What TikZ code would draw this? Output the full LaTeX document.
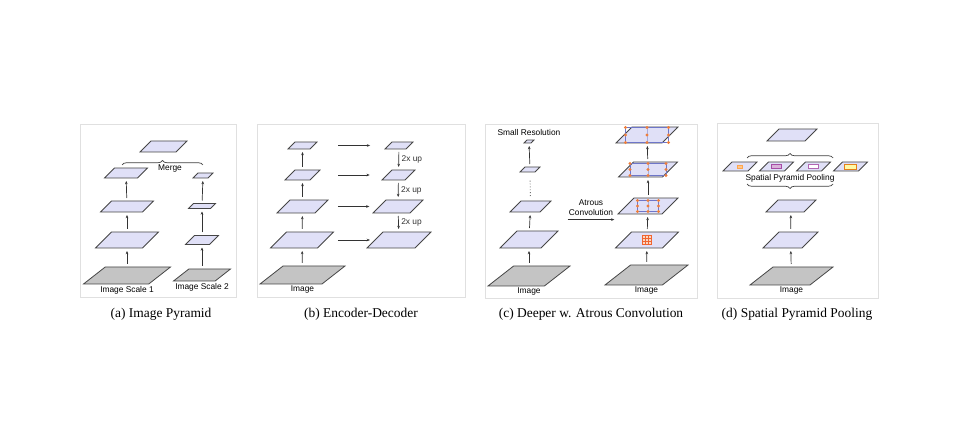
\documentclass[tikz,border=0pt]{standalone}
\usepackage{fontspec}
\setmainfont{Liberation Serif}
\setsansfont{Liberation Sans}
\usetikzlibrary{arrows.meta,positioning,shapes.geometric,decorations.pathreplacing,calc}

\definecolor{lav}{RGB}{224,224,247}
\definecolor{imgray}{RGB}{196,196,196}
\definecolor{edge}{RGB}{70,70,70}
\definecolor{dotor}{RGB}{238,126,60}
\definecolor{gridblue}{RGB}{110,118,200}

% dilated sampling grid drawn on a feature map
\newcommand{\atrousgrid}[3]{%
  \draw[gridblue, line width=0.4bp] ($(#1)+(-#2,-#3)$) rectangle ($(#1)+(#2,#3)$);
  \draw[gridblue!60, line width=0.3bp] ($(#1)+(0,-#3)$) -- ($(#1)+(0,#3)$);
  \foreach \u in {-1,0,1}
    \foreach \v in {-1,0,1}
      \fill[dotor] ($(#1)+(\u*#2,\v*#3)$) circle (1.6bp);
}

\begin{document}
\begin{tikzpicture}[
  x=1bp, y=-1bp,
  fmap/.style={draw=edge, line width=0.8bp, fill=lav, trapezium,
    trapezium left angle=45, trapezium right angle=135,
    trapezium stretches body, inner sep=0pt, outer sep=0pt, text depth=0pt},
  img/.style={fmap, fill=imgray, trapezium left angle=38, trapezium right angle=142},
  fm/.style 2 args={fmap, minimum width=#1, text height=#2},
  im/.style 2 args={img, minimum width=#1, text height=#2},
  lbl/.style={font=\sffamily\fontsize{8.4}{10}\selectfont, inner sep=1bp},
  captxt/.style={font=\fontsize{13.5}{15}\selectfont},
  panel/.style={draw=black!12, line width=0.6bp},
  arr/.style={-{Stealth[length=3.2bp,width=2.6bp]}, line width=0.7bp, black!80,
    shorten <=3bp, shorten >=3bp},
  brc/.style={decorate, decoration={brace, amplitude=4.5bp}, line width=0.7bp, black!75}
]
\fill[white] (0,0) rectangle (974,444);
\useasboundingbox (0,0) rectangle (974,444);

% (a) image pyramid
\draw[panel] (80,124) rectangle (236,297);
\node[im={87bp}{17bp}] (ia1) at (127,275.5) {};
\node[fm={63bp}{16bp}] (ia2) at (127,240) {};
\node[fm={53bp}{11bp}] (ia3) at (127,206.5) {};
\node[fm={43bp}{10bp}] (ia4) at (126,173) {};
\node[im={57bp}{12bp}] (ib1) at (202,275) {};
\node[fm={33bp}{9bp}] (ib2) at (202,240) {};
\node[fm={27bp}{5bp}] (ib3) at (202,206) {};
\node[fm={20bp}{5bp}] (ib4) at (203,175.5) {};
\node[fm={47bp}{11bp}] (merge) at (163.5,146.5) {};
\node[lbl, below=1bp of ia1] {Image Scale 1};
\node[lbl, below=1bp of ib1] {Image Scale 2};
\node[lbl] (mlab) at (170,168.5) {Merge};
\draw[brc] (122,165) -- (203,165);
\foreach \i/\j in {1/2,2/3,3/4} {
  \draw[arr] (ia\i) -- (ia\j);
  \draw[arr] (ib\i) -- (ib\j);
}

% (b) encoder-decoder
\draw[panel] (257,124) rectangle (465,297);
\node[im={85bp}{18bp}] (en1) at (302.5,275) {};
\node[fm={63bp}{16bp}] (en2) at (302,240) {};
\node[fm={51bp}{13bp}] (en3) at (302.5,206.5) {};
\node[fm={35bp}{10bp}] (en4) at (302.5,175) {};
\node[fm={29bp}{7bp}] (en5) at (302.5,145.5) {};
\node[fm={64bp}{16bp}] (de2) at (399,240) {};
\node[fm={50bp}{13bp}] (de3) at (398,206.5) {};
\node[fm={33bp}{10bp}] (de4) at (398.5,175) {};
\node[fm={28bp}{7bp}] (de5) at (399,145.5) {};
\node[lbl, below=1bp of en1] {Image};
\foreach \i/\j in {1/2,2/3,3/4,4/5}
  \draw[arr] (en\i) -- (en\j);
\foreach \i in {2,...,5}
  \draw[arr, shorten <=0pt, shorten >=0pt] ($(en\i)!0.37!(de\i)$) -- ($(en\i)!0.70!(de\i)$);
\foreach \i/\j in {5/4,4/3,3/2}
  \draw[arr] (de\i) -- node[lbl, right=1.5bp] {2x up} (de\j);

% (c) deeper w. atrous convolution
\draw[panel] (485,124) rectangle (697,298);
\node[im={82bp}{20bp}] (dc1) at (529,276) {};
\node[fm={58bp}{17bp}] (dc2) at (529,239.5) {};
\node[fm={41bp}{11bp}] (dc3) at (530.5,206.5) {};
\node[fm={20bp}{5bp}] (dc4) at (530,169.5) {};
\node[fm={10bp}{3bp}] (dc5) at (529,141.5) {};
\node[lbl, above=3bp of dc5] {Small Resolution};
\node[lbl, below=1bp of dc1] {Image};
\draw[arr] (dc1) -- (dc2);
\draw[arr] (dc2) -- (dc3);
\draw[arr] (dc4) -- (dc5);
\draw[dotted, line width=0.9bp, black!55, shorten <=5bp, shorten >=7bp] (dc3) -- (dc4);
\node[im={83bp}{20bp}] (at1) at (646.5,275) {};
\node[fm={63bp}{16bp}] (at2) at (647,240) {};
\node[fm={60bp}{16bp}] (at3) at (648,206) {};
\node[fm={59bp}{15bp}] (at4) at (648,169.5) {};
\node[fm={62bp}{16bp}] (at5) at (647,135) {};
\node[lbl, below=1bp of at1] {Image};
\foreach \i/\j in {1/2,2/3,3/4,4/5}
  \draw[arr] (at\i) -- (at\j);
\node[lbl, align=center] (atr) at (591,208) {Atrous\\Convolution};
\draw[arr, shorten <=0pt, shorten >=0pt] ([yshift=-2.5bp]atr.south west) -- ([yshift=-2.5bp]atr.south east);
\draw[dotor!80!red, fill=dotor!30, line width=0.5bp] ($(at2)+(-4.5,-4.5)$) rectangle ($(at2)+(4.5,4.5)$);
\foreach \d in {-1.5,1.5} {
  \draw[dotor!80!red, line width=0.4bp] ($(at2)+(\d,-4.5)$) -- ($(at2)+(\d,4.5)$);
  \draw[dotor!80!red, line width=0.4bp] ($(at2)+(-4.5,\d)$) -- ($(at2)+(4.5,\d)$);
}
\atrousgrid{at3}{10.5}{5.5}
\atrousgrid{at4}{18}{6}
\atrousgrid{at5}{21.5}{7.5}

% (d) spatial pyramid pooling
\draw[panel] (717,123) rectangle (878,298);
\node[im={83bp}{18bp}] (sp1) at (791.5,276) {};
\node[fm={55bp}{16bp}] (sp2) at (790.5,240) {};
\node[fm={50bp}{12bp}] (sp3) at (791,206) {};
\node[fm={34bp}{9bp}] (q1) at (740,166.5) {};
\node[fm={34bp}{9bp}] (q2) at (776.5,166.5) {};
\node[fm={34bp}{9bp}] (q3) at (813.5,166.5) {};
\node[fm={34bp}{9bp}] (q4) at (850.5,166.5) {};
\node[fm={50bp}{12bp}] (spt) at (792,135) {};
\node[lbl, below=1bp of sp1] {Image};
\node[lbl] (spp) at (790,178) {Spatial Pyramid Pooling};
\draw[arr] (sp1) -- (sp2);
\draw[arr] (sp2) -- (sp3);
\draw[brc] (833,184) -- (747,184);
\draw[brc] (747,158) -- (833,158);
\draw[draw=orange!70, fill=orange!45, line width=0.4bp] ($(q1)+(-2.5,-1.5)$) rectangle ($(q1)+(2.5,1.5)$);
\draw[draw=violet!70, fill=violet!30, line width=0.5bp] ($(q2)+(-5,-2)$) rectangle ($(q2)+(5,2)$);
\draw[draw=violet!60, fill=white, line width=0.5bp] ($(q3)+(-5,-2)$) rectangle ($(q3)+(5,2)$);
\draw[draw=orange!60!brown, fill=yellow!35, line width=0.5bp] ($(q4)+(-6,-2.5)$) rectangle ($(q4)+(6,2.5)$);

% captions
\node[captxt] (capa) at (161,314) {(a) Image Pyramid};
\node[captxt] (capb) at (361,314) {(b) Encoder-Decoder};
\node[captxt] (capc) at (591,314) {(c) Deeper w. Atrous Convolution};
\node[captxt] (capd) at (797,314) {(d) Spatial Pyramid Pooling};
\end{tikzpicture}
\end{document}
